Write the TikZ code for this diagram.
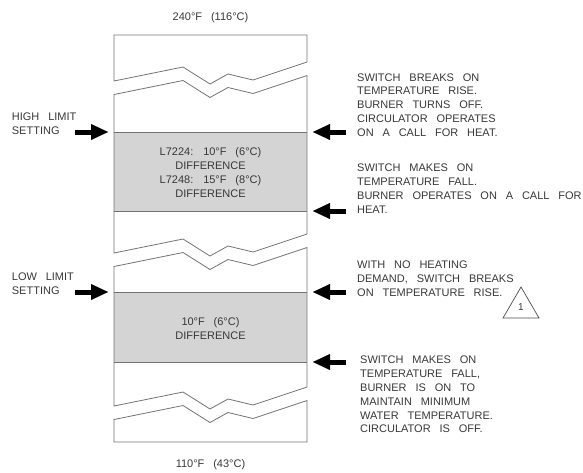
\documentclass[tikz,border=0pt]{standalone}
\usepackage{fontspec}
\setmainfont{Liberation Sans}[WordSpace=2.9]
\usetikzlibrary{arrows.meta}
\begin{document}
\begin{tikzpicture}[x=1pt,y=-1pt,
  outline/.style={draw=black!55, line width=0.8pt},
  lbl/.style={inner sep=0pt, font=\fontsize{11}{13.8}\selectfont, text=black!78, align=left, anchor=north west},
  ctr/.style={inner sep=0pt, font=\fontsize{11}{13.8}\selectfont, text=black!78, align=center},
  pointer/.style={line width=5pt, black, -{Triangle[length=17pt,width=16pt,line width=0.1pt]}}]
\useasboundingbox (0,0) rectangle (583,472);

% gray bands
\fill[black!17] (114,132) rectangle (307,211);
\fill[black!17] (114,292) rectangle (307,362);

% top section
\draw[outline] (114,81) -- (114,35) -- (307,35) -- (307,62) -- (253,80) -- (228,74) -- (210,84) -- (183,67) -- cycle;
% upper middle section
\draw[outline] (114,253) -- (114,94.5) -- (183,80.5) -- (210,97.5) -- (228,87.5) -- (253,93.5) -- (307,75.5) -- (307,234) -- (253,252) -- (228,246) -- (210,256) -- (183,239) -- cycle;
\draw[outline] (114,132) -- (307,132);
\draw[outline] (114,211) -- (307,211);
% lower middle section
\draw[outline] (114,406) -- (114,266.5) -- (183,252.5) -- (210,269.5) -- (228,259.5) -- (253,265.5) -- (307,247.5) -- (307,387) -- (253,405) -- (228,399) -- (210,409) -- (183,392) -- cycle;
\draw[outline] (114,292) -- (307,292);
\draw[outline] (114,362) -- (307,362);
% bottom section
\draw[outline] (114,442) -- (114,419.5) -- (183,405.5) -- (210,422.5) -- (228,412.5) -- (253,418.5) -- (307,400.5) -- (307,442) -- cycle;

% texts
\node[ctr] (top) at (210.5,17.5) {240°F (116°C)};
\node[ctr] (bot) at (210.5,464.5) {110°F (43°C)};
\node[ctr, anchor=north] (d1) at (210.5,147.7) {L7224: 10°F (6°C)\\DIFFERENCE\\L7248: 15°F (8°C)\\DIFFERENCE};
\node[ctr, anchor=north] (d2) at (210.5,317.7) {10°F (6°C)\\DIFFERENCE};

\node[lbl] (hi) at (11.7,112.7) {HIGH LIMIT\\SETTING};
\node[lbl] (lo) at (11.7,272.7) {LOW LIMIT\\SETTING};

\node[lbl] (r1) at (357,73.3) {SWITCH BREAKS ON\\TEMPERATURE RISE.\\BURNER TURNS OFF.\\CIRCULATOR OPERATES\\ON A CALL FOR HEAT.};
\node[lbl] (r2) at (357,164) {SWITCH MAKES ON\\TEMPERATURE FALL.\\BURNER OPERATES ON A CALL FOR\\HEAT.};
\node[lbl] (r3) at (357,260.7) {WITH NO HEATING\\DEMAND, SWITCH BREAKS\\ON TEMPERATURE RISE.};
\node[lbl] (r4) at (360,356) {SWITCH MAKES ON\\TEMPERATURE FALL,\\BURNER IS ON TO\\MAINTAIN MINIMUM\\WATER TEMPERATURE.\\CIRCULATOR IS OFF.};

% note triangle
\draw[black!70, line width=0.7pt] (521,287) -- (539,318) -- (503,318) -- cycle;
\node[ctr, font=\fontsize{10}{12}\selectfont] (note) at (521,307) {1};

% arrows
\coordinate (hiT) at (75,132);  \coordinate (hiH) at (108,132);
\coordinate (loT) at (75,292);  \coordinate (loH) at (108,292);
\coordinate (a1T) at (346,132); \coordinate (a1H) at (313,132);
\coordinate (a2T) at (346,211); \coordinate (a2H) at (313,211);
\coordinate (a3T) at (346,292); \coordinate (a3H) at (313,292);
\coordinate (a4T) at (346,362); \coordinate (a4H) at (313,362);
\draw[pointer] (hiT) -- (hiH);
\draw[pointer] (loT) -- (loH);
\draw[pointer] (a1T) -- (a1H);
\draw[pointer] (a2T) -- (a2H);
\draw[pointer] (a3T) -- (a3H);
\draw[pointer] (a4T) -- (a4H);
\end{tikzpicture}
\end{document}
